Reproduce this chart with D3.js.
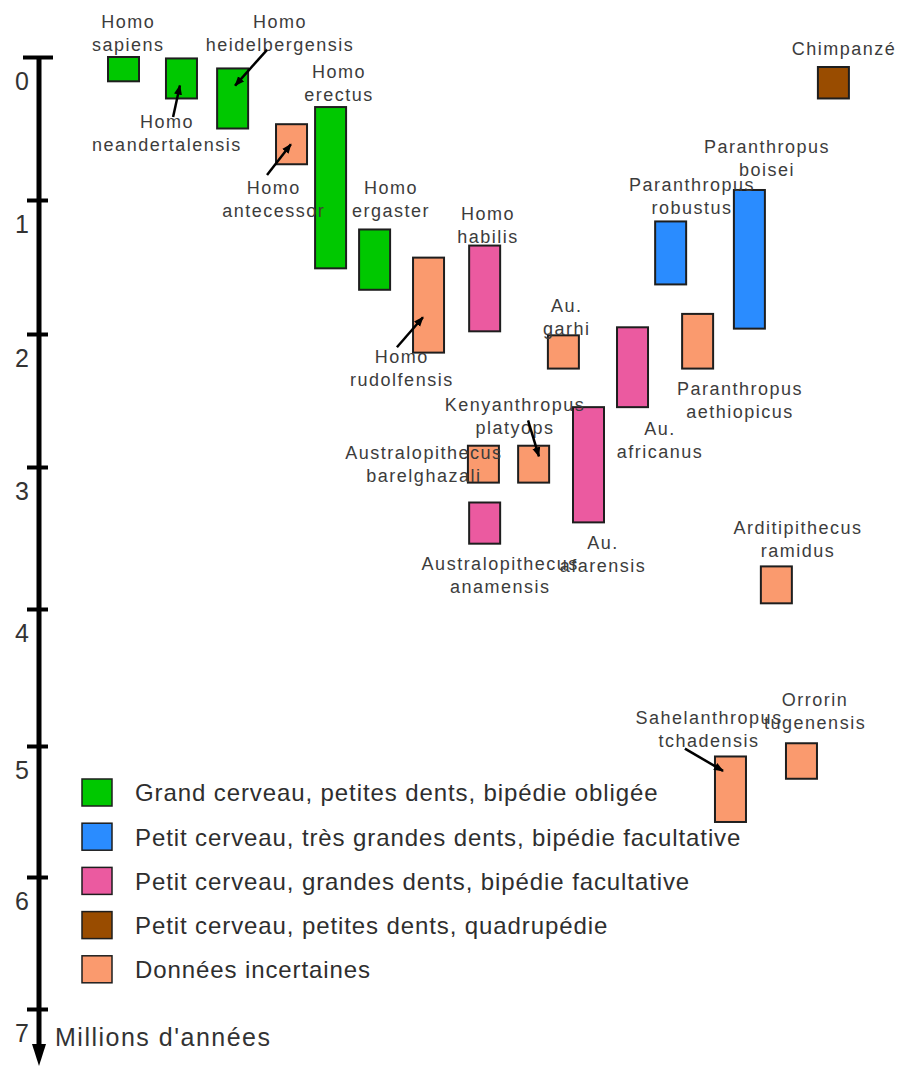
<!DOCTYPE html>
<html lang="fr">
<head>
<meta charset="UTF-8">
<title>Hominidés</title>
<script src="https://d3js.org/d3.v7.min.js"></script>
<style>
  body { margin: 0; background: #fff; }
  text { font-family: "Liberation Sans", Arial, sans-serif; }
</style>
</head>
<body>
<svg id="chart" width="900" height="1068"></svg>
<script>
// espèces, groupe (index dans groupLabels), âges de début / fin (Ma), colonne
const species = [
  "Homo sapiens", "Homo neandertalensis", "Homo heidelbergensis", "Homo antecessor",
  "Homo erectus", "Homo ergaster", "Homo rudolfensis", "Homo habilis",
  "Australopithecus barelghazali", "Australopithecus anamensis", "Kenyanthropus platyops",
  "Au. garhi", "Au. afarensis", "Au. africanus", "Paranthropus robustus",
  "Paranthropus aethiopicus", "Paranthropus boisei", "Arditipithecus ramidus",
  "Sahelanthropus tchadensis", "Orrorin tugenensis", "Chimpanzé"
];
const group    = [0, 0, 0, 4, 0, 0, 4, 2, 4, 2, 4, 4, 2, 2, 1, 4, 1, 4, 4, 4, 3];
const ageStart = [0.00, 0.01, 0.08, 0.47, 0.35, 1.22, 1.43, 1.34, 2.84, 3.25, 2.84,
                  2.01, 2.55, 1.95, 1.16, 1.85, 0.93, 3.70, 5.08, 4.98, 0.07];
const ageEnd   = [0.17, 0.29, 0.50, 0.75, 1.51, 1.67, 2.14, 1.98, 3.11, 3.54, 3.11,
                  2.26, 3.39, 2.55, 1.63, 2.26, 1.96, 3.96, 5.58, 5.25, 0.29];
const column   = [0, 1.87, 3.52, 5.42, 6.68, 8.10, 9.84, 11.65, 11.61, 11.65, 13.23,
                  14.19, 15.0, 16.42, 17.65, 18.52, 20.19, 21.06, 19.58, 21.87, 22.9];

const groupLabels = [
  "Grand cerveau, petites dents, bipédie obligée",
  "Petit cerveau, très grandes dents, bipédie facultative",
  "Petit cerveau, grandes dents, bipédie facultative",
  "Petit cerveau, petites dents, quadrupédie",
  "Données incertaines"
];
const groupColors = ["#00c800", "#2a8cff", "#eb5aa0", "#994c00", "#fa9a6e"];

const ageTicks = [0, 1, 2, 3, 4, 5, 6, 7];
const axisTitle = "Millions d'années";

// position des étiquettes (colonne, âge) de la première ligne
const labelCol = [0.65, 1.90, 5.55, 5.35, 7.45, 9.13, 9.48, 12.26, 10.19, 12.65, 13.13,
                  14.8, 15.97, 17.81, 18.84, 20.39, 21.26, 22.26, 19.39, 22.81, 23.74];
const labelAge = [-0.245, 0.455, -0.25, 0.916, 0.105, 0.916, 2.17, 1.10, 2.89, 3.68, 2.53,
                  1.79, 3.53, 2.71, 0.895, 2.41, 0.63, 3.43, 4.79, 4.66, -0.056];

// flèches : [colonne, âge] départ -> arrivée
const arrows = [
  [[2.10, 0.42], [2.32, 0.20]],
  [[5.13, -0.05], [4.10, 0.20]],
  [[5.13, 0.825], [5.90, 0.61]],
  [[9.32, 2.10], [10.16, 1.875]],
  [[13.55, 2.65], [13.90, 2.92]],
  [[18.61, 5.02], [19.84, 5.19]]
];

const svg = d3.select("#chart");

const y = d3.scaleLinear()
  .domain(ageTicks)
  .range([57, 200, 334, 467, 609, 746, 877, 1009]);
const x = d3.scaleLinear().domain([0, 1]).range([108, 139]);

// axe
const axisX = 39;
svg.append("path")
  .attr("d", `M${axisX},${y(0)}V1048`)
  .attr("stroke", "#000").attr("stroke-width", 5);
svg.append("path")
  .attr("d", `M${axisX - 7},1044L${axisX + 7},1044L${axisX},1066Z`)
  .attr("fill", "#000");

const ax = svg.append("g")
  .attr("transform", `translate(${axisX},0)`)
  .call(d3.axisLeft(y).tickValues(ageTicks).tickFormat(d3.format("d")));
ax.select(".domain").remove();
ax.selectAll(".tick line")
  .attr("x1", d => d === 0 ? -16 : -12)
  .attr("x2", d => d === 0 ? 14 : 9)
  .attr("stroke", "#000").attr("stroke-width", 4);
ax.selectAll(".tick text")
  .attr("x", -17).attr("y", 24).attr("dy", "0.35em")
  .attr("text-anchor", "middle")
  .attr("fill", "#333")
  .style("font-size", "25px");

svg.append("text")
  .attr("x", 55).attr("y", y(7) + 28)
  .attr("dy", "0.35em")
  .attr("fill", "#333")
  .style("font-size", "25px")
  .style("letter-spacing", "1.5px")
  .text(axisTitle);

// boîtes
const idx = d3.range(species.length);
svg.append("g").selectAll("rect")
  .data(idx)
  .join("rect")
  .attr("x", i => x(column[i]))
  .attr("y", i => y(ageStart[i]))
  .attr("width", x(1) - x(0))
  .attr("height", i => y(ageEnd[i]) - y(ageStart[i]))
  .attr("fill", i => groupColors[group[i]])
  .attr("stroke", "#1e1e1e")
  .attr("stroke-width", 2);

// étiquettes
const labels = svg.append("g").selectAll("text")
  .data(idx)
  .join("text")
  .attr("text-anchor", "middle")
  .attr("fill", "#3c3c3c")
  .style("font-size", "18px")
  .style("letter-spacing", "1.5px");
labels.each(function(i) {
  const name = species[i];
  const cut = name.indexOf(" ");
  const lines = cut < 0 ? [name] : [name.slice(0, cut), name.slice(cut + 1)];
  const cx = x(labelCol[i]);
  const cy = y(labelAge[i]);
  d3.select(this).selectAll("tspan")
    .data(lines)
    .join("tspan")
    .attr("x", cx)
    .attr("y", (l, k) => cy + k * 23)
    .attr("dy", "0.35em")
    .text(l => l);
});

// flèches
svg.append("defs").append("marker")
  .attr("id", "head")
  .attr("viewBox", "0 0 10 10")
  .attr("refX", 9).attr("refY", 5)
  .attr("markerUnits", "userSpaceOnUse")
  .attr("markerWidth", 10).attr("markerHeight", 10)
  .attr("orient", "auto")
  .append("path")
  .attr("d", "M0,1L10,5L0,9Z")
  .attr("fill", "#000");

svg.append("g").selectAll("line")
  .data(arrows)
  .join("line")
  .attr("x1", d => x(d[0][0]))
  .attr("y1", d => y(d[0][1]))
  .attr("x2", d => x(d[1][0]))
  .attr("y2", d => y(d[1][1]))
  .attr("stroke", "#000")
  .attr("stroke-width", 2.5)
  .attr("marker-end", "url(#head)");

// légende
const legend = svg.append("g").selectAll("g")
  .data(groupLabels)
  .join("g")
  .attr("transform", (d, i) => `translate(82,${779 + i * 44.2})`);
legend.append("rect")
  .attr("width", 30).attr("height", 27)
  .attr("fill", (d, i) => groupColors[i])
  .attr("stroke", "#1e1e1e")
  .attr("stroke-width", 1.5);
legend.append("text")
  .attr("x", 53).attr("y", 14)
  .attr("dy", "0.35em")
  .attr("fill", "#2e2e2e")
  .style("font-size", "24px")
  .style("letter-spacing", "0.9px")
  .text(d => d);
</script>
</body>
</html>
